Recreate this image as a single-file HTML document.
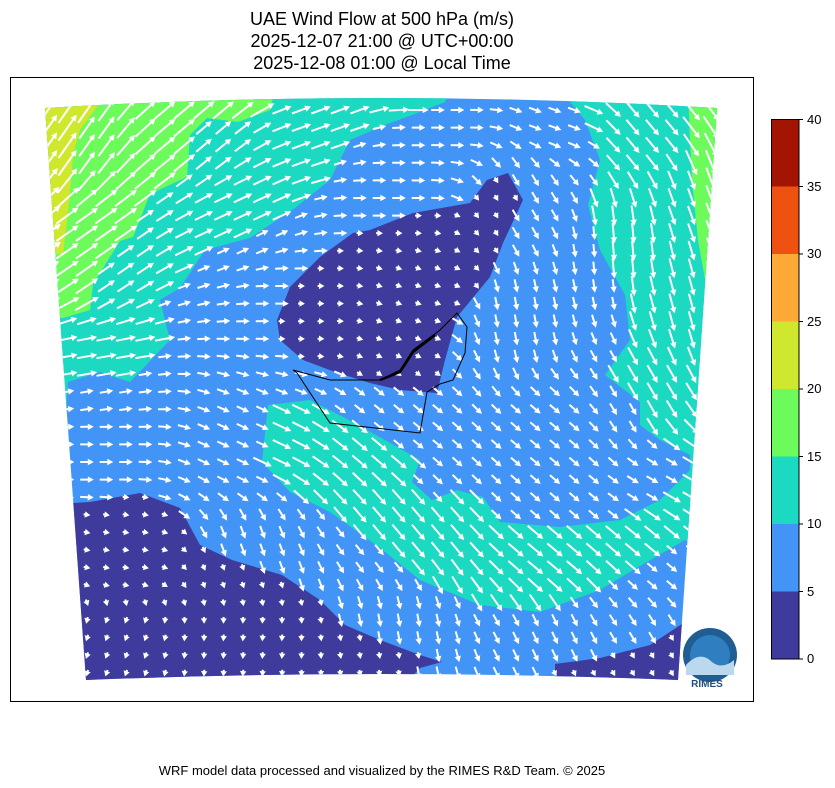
<!DOCTYPE html>
<html><head><meta charset="utf-8"><style>
body{margin:0;background:#fff;}
svg{display:block;font-family:"Liberation Sans","DejaVu Sans",sans-serif;}
</style></head><body>
<svg id="s" width="835" height="788" viewBox="0 0 835 788" xmlns="http://www.w3.org/2000/svg">
<defs><clipPath id="dom"><path d="M45,108 Q381,88 717,108 L678,680 Q382,668 86,680 Z"/></clipPath></defs>
<text x="382" y="25" font-size="18" text-anchor="middle">UAE Wind Flow at 500 hPa (m/s)</text>
<text x="382" y="47" font-size="18" text-anchor="middle">2025-12-07 21:00 @ UTC+00:00</text>
<text x="382" y="69" font-size="18" text-anchor="middle">2025-12-08 01:00 @ Local Time</text>
<rect x="10.5" y="77.5" width="743" height="624" fill="none" stroke="#000" stroke-width="1"/>
<g clip-path="url(#dom)" id="map">
<rect x="40" y="90" width="690" height="600" fill="#4294f7"/>
<path id="r1" fill="#1cd9c2" d="M40,90 L450,90 L445,102 L420,112 L385,125 L350,140 L330,180 L295,208 L250,238 L205,250 L180,288 L160,300 L170,340 L130,382 L100,372 L68,382 L66,420 L40,420 Z"/>
<path id="r2" fill="#1cd9c2" d="M560,90 L730,90 L730,560 L685,540 L640,566 L600,590 L540,612 L480,605 L420,580 L380,548 L330,512 L290,492 L262,462 L268,405 L310,400 L345,418 L385,440 L420,460 L412,482 L432,500 L457,490 L483,497 L500,522 L560,527 L620,520 L660,500 L690,470 L690,455 L660,440 L640,425 L640,402 L605,375 L630,340 L625,295 L600,250 L588,205 L600,160 L585,120 Z"/>
<path id="r3" fill="#6cfb5a" d="M40,90 L275,90 L270,110 L238,122 L207,118 L190,135 L187,177 L150,194 L133,237 L120,241 L93,284 L90,310 L63,318 L40,318 Z"/>
<path id="r4" fill="#cfe72d" d="M40,90 L102,100 L80,130 L73,154 L70,194 L63,254 L40,254 Z"/>
<path id="r5" fill="#6cfb5a" d="M688,90 L730,90 L730,300 L706,285 L698,240 L692,180 L690,140 Z"/>
<path id="r6" fill="#3e3b9c" d="M277,320 L290,287 L320,257 L353,233 L370,230 L413,213 L470,203 L487,180 L508,173 L523,200 L503,243 L490,277 L457,317 L445,360 L437,393 L400,390 L370,383 L335,372 L303,360 L280,340 Z"/>
<path id="r7" fill="#3e3b9c" d="M40,505 L90,502 L140,493 L180,508 L200,545 L232,560 L282,575 L320,600 L345,625 L380,640 L420,655 L442,662 L420,668 L400,690 L40,690 Z"/>
<path id="r8" fill="#3e3b9c" d="M555,664 L600,658 L650,645 L685,622 L690,690 L555,690 Z"/>
<g id="arrows" fill="#fff"></g>
<path d="M297,373 L293,370 L330,380 L380,380 L400,370 L413,350 L440,330 L457,313 L462,320 L467,327 L465,353 L453,380 L440,384 L427,392 L420,433 L330,423 Z" fill="none" stroke="#000" stroke-width="1"/>
<path d="M380,380 L400,372 L413,352 L435,335" stroke="#000" stroke-width="2.5" fill="none"/>
</g>
<circle cx="710" cy="655" r="27" fill="#1f5d93"/>
<circle cx="710" cy="655" r="20" fill="#2f7fc0"/>
<path d="M686,665 Q700,650 712,662 Q722,670 734,660 L734,675 L686,675 Z" fill="#bcd8ee"/>
<text x="707" y="687" font-size="10" font-weight="bold" fill="#1f4f80" text-anchor="middle">RIMES</text>
<g>
<rect x="771" y="591.5" width="28" height="67.5" fill="#3e3b9c"/>
<rect x="771" y="524" width="28" height="67.5" fill="#4294f7"/>
<rect x="771" y="456.5" width="28" height="67.5" fill="#1cd9c2"/>
<rect x="771" y="389" width="28" height="67.5" fill="#6cfb5a"/>
<rect x="771" y="321.5" width="28" height="67.5" fill="#cfe72d"/>
<rect x="771" y="254" width="28" height="67.5" fill="#fcaa35"/>
<rect x="771" y="186.5" width="28" height="67.5" fill="#ef5111"/>
<rect x="771" y="119" width="28" height="67.5" fill="#a31502"/>
<rect x="771.5" y="119.5" width="27.5" height="539.5" fill="none" stroke="#000" stroke-width="1"/>
<g stroke="#000" stroke-width="1">
<line x1="799" y1="659" x2="803" y2="659"/><line x1="799" y1="591.5" x2="803" y2="591.5"/><line x1="799" y1="524" x2="803" y2="524"/><line x1="799" y1="456.5" x2="803" y2="456.5"/><line x1="799" y1="389" x2="803" y2="389"/><line x1="799" y1="321.5" x2="803" y2="321.5"/><line x1="799" y1="254" x2="803" y2="254"/><line x1="799" y1="186.5" x2="803" y2="186.5"/><line x1="799" y1="119.5" x2="803" y2="119.5"/>
</g>
<g font-size="13" fill="#000">
<text x="807" y="663">0</text><text x="807" y="596">5</text><text x="807" y="528">10</text><text x="807" y="461">15</text><text x="807" y="393">20</text><text x="807" y="326">25</text><text x="807" y="258">30</text><text x="807" y="191">35</text><text x="807" y="124">40</text>
</g>
</g>
<text x="382" y="775" font-size="13" text-anchor="middle">WRF model data processed and visualized by the RIMES R&amp;D Team. © 2025</text>
</svg>
<script>
(function(){
var cp=[[70,130,-55],[200,130,-40],[330,120,-20],[450,115,0],[560,115,20],[650,130,50],[700,200,70],
[100,250,-35],[250,220,-25],[400,200,0],[520,200,60],[620,250,85],[690,300,75],
[100,380,-10],[300,300,0],[420,300,20],[520,320,80],[640,400,60],
[100,450,0],[250,450,25],[400,430,40],[550,430,40],[670,480,30],
[120,560,10],[250,560,70],[400,540,50],[550,560,40],[670,560,40],
[120,640,110],[250,650,95],[400,640,80],[550,640,65],[670,650,60]];
var regs=[['r8',4],['r7',4],['r6',4],['r5',16],['r4',18.5],['r3',16],['r2',12],['r1',12]];
var els=regs.map(function(r){return [document.getElementById(r[0]),r[1]];});
function speed(x,y){
 for(var i=0;i<els.length;i++){
  try{ if(els[i][0].isPointInFill(new DOMPoint(x,y))) return els[i][1]; }catch(e){}
 }
 return 8;
}
var g=document.getElementById('arrows'),out='';
for(var y=110;y<685;y+=17.6){
 for(var x=48;x<720;x+=19.5){
  var sx=0,sy=0;
  for(var k=0;k<cp.length;k++){
   var dx=x-cp[k][0],dy=y-cp[k][1],d2=Math.max(dx*dx+dy*dy,25);
   var w=1/(d2*d2),t=cp[k][2]*Math.PI/180;
   sx+=w*Math.cos(t);sy+=w*Math.sin(t);
  }
  var a=Math.atan2(sy,sx);
  var sp=speed(x,y),L=sp*1.7;
  var hl=Math.min(6,L*0.8), hw=Math.min(3.2,L*0.5), sw=1;
  var p='0,-'+sw+' '+(L-hl)+',-'+sw+' '+(L-hl)+',-'+hw+' '+L+',0 '+(L-hl)+','+hw+' '+(L-hl)+','+sw+' 0,'+sw;
  out+='<polygon points="'+p+'" transform="translate('+(x-L/2*Math.cos(a)).toFixed(1)+','+(y-L/2*Math.sin(a)).toFixed(1)+') rotate('+(a*180/Math.PI).toFixed(1)+')"/>';
 }
}
g.innerHTML=out;
})();
</script>
</body></html>
